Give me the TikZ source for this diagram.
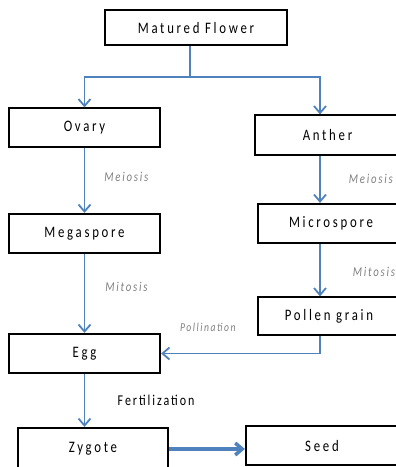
\documentclass[tikz,border=0pt]{standalone}
\usepackage{fontspec}
\usetikzlibrary{positioning,calc,arrows.meta}
\newfontfamily\flowfont[FakeStretch=0.8,LetterSpace=17]{Carlito}
\newfontfamily\procfont[FakeStretch=0.8,LetterSpace=13]{Carlito}
\definecolor{flowblue}{HTML}{4F81BD}
\definecolor{labelgray}{HTML}{7F7F7F}
\tikzset{
  box/.style={draw, line width=1.2pt, minimum width=151pt, minimum height=39pt,
    inner sep=0pt, font=\flowfont\fontsize{16}{18}\selectfont},
  boldbox/.style={box, line width=2.2pt},
  flow/.style={draw=flowblue, line width=1.8pt, -{Straight Barb[length=7pt,width=12pt]}},
  proc/.style={font=\procfont\itshape\fontsize{13.5}{15}\selectfont, text=labelgray, inner sep=1pt},
}
\begin{document}
\begin{tikzpicture}[x=1pt,y=-1pt,on grid,node distance=100pt]
\useasboundingbox (0,0) rectangle (396,467);
\clip (0,0) rectangle (396,467);
% boxes
\node[box, line width=1.7pt, minimum width=182pt, minimum height=35pt] (flower) at (196,27.5) {Matured Flower};
\node[box] (ovary) at (84.5,127.5) {Ovary};
\node[box, minimum width=145pt, minimum height=40pt] (anther) at (327.5,135) {Anther};
\node[boldbox, below=106pt of ovary] (mega) {Megaspore};
\node[boldbox, minimum width=146pt] (micro) at (331,223.5) {Microspore};
\node[box, minimum width=142pt, minimum height=38pt] (pollen) at (329,316) {Pollen grain};
\node[boldbox, below=120pt of mega] (egg) {Egg};
\node[boldbox, minimum width=150pt, minimum height=42pt] (zygote) at (93,449) {Zygote};
\node[boldbox, minimum width=152pt] (seed) at (322,445.5) {Seed};
\coordinate (fork) at (190,77);
\coordinate (rcol) at (320,0);
% arrows
\draw[flow, -] (flower.south -| fork) -- (fork);
\draw[flow] (fork) -| (ovary.north);
\draw[flow] (fork) -| (anther.north -| rcol);
\draw[flow] (ovary) -- node[proc, right=18pt, pos=0.45] {Meiosis} (mega);
\draw[flow] (mega) -- node[proc, right=19pt, pos=0.41] {Mitosis} (egg);
\draw[flow] (anther.south -| rcol) -- node[proc, right=27pt] {Meiosis} (micro.north -| rcol);
\draw[flow] (micro.south -| rcol) -- node[proc, right=31pt, pos=0.54] {Mitosis} (pollen.north -| rcol);
\draw[flow] (pollen.south -| rcol) |- node[proc, font=\procfont\itshape\fontsize{12}{14}\selectfont, pos=0.853, above=20pt] {Pollination} (egg.east);
\draw[flow] (egg) -- node[right=29pt, font=\procfont\fontsize{15}{17}\selectfont] {Fertilization} (zygote.north -| egg);
\draw[flow, line width=3.5pt] (zygote.east) -- (zygote.east -| seed.west);
\end{tikzpicture}
\end{document}
